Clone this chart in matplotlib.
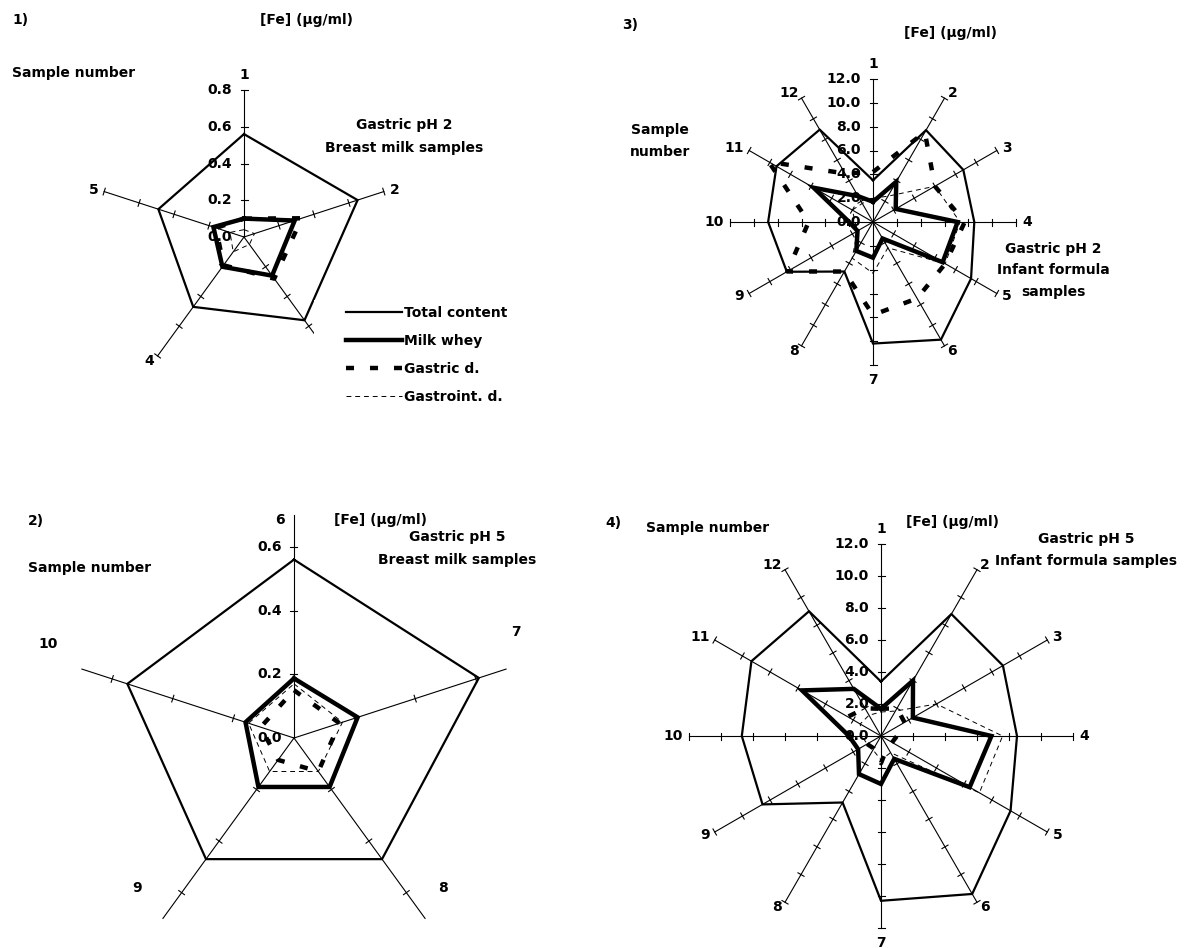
import numpy as np
import matplotlib
matplotlib.use("Agg")
import matplotlib.pyplot as plt
from matplotlib.patches import Rectangle

# ---------------- data ----------------
series_names = ["Total content", "Milk whey", "Gastric d.", "Gastroint. d."]

p1_samples = ["1", "2", "3", "4", "5"]
p1_total = [0.56, 0.65, 0.56, 0.47, 0.49]
p1_whey = [0.10, 0.29, 0.26, 0.20, 0.175]
p1_gastric = [0.10, 0.33, 0.28, 0.19, 0.16]
p1_gastroint = [0.04, 0.06, 0.05, 0.10, 0.08]
p1_ticks = [0.0, 0.2, 0.4, 0.6, 0.8]

p2_samples = ["6", "7", "8", "9", "10"]
p2_total = [0.56, 0.61, 0.47, 0.47, 0.55]
p2_whey = [0.187, 0.21, 0.19, 0.19, 0.16]
p2_gastric = [0.15, 0.15, 0.13, 0.085, 0.11]
p2_gastroint = [0.17, 0.16, 0.13, 0.13, 0.15]
p2_ticks = [0.0, 0.2, 0.4, 0.6]

p3_samples = ["1", "2", "3", "4", "5", "6", "7", "8", "9", "10", "11", "12"]
p3_total = [3.5, 8.9, 8.75, 8.5, 9.5, 11.4, 10.2, 4.8, 8.35, 8.8, 9.35, 8.95]
p3_whey = [1.7, 3.9, 2.2, 7.1, 6.75, 1.6, 3.0, 2.8, 1.5, 2.0, 5.75, 2.5]
p3_gastric = [4.2, 8.7, 6.0, 7.7, 7.0, 7.4, 7.8, 4.8, 8.3, 5.4, 10.1, 4.7]
p3_gastroint = [2.0, 2.5, 6.0, 7.3, 7.0, 2.5, 4.3, 3.5, 1.5, 1.5, 2.0, 1.8]
p3_ticks = [0.0, 2.0, 4.0, 6.0, 8.0, 10.0, 12.0]

p4_samples = ["1", "2", "3", "4", "5", "6", "7", "8", "9", "10", "11", "12"]
p4_total = [3.4, 8.8, 8.8, 8.5, 9.35, 11.4, 10.3, 4.8, 8.55, 8.7, 9.35, 9.0]
p4_whey = [1.7, 4.0, 2.3, 6.9, 6.4, 1.65, 3.0, 2.75, 1.65, 2.0, 5.7, 3.4]
p4_gastric = [1.7, 2.0, 1.7, 1.0, 0.8, 0.8, 1.7, 0.9, 1.0, 2.0, 2.4, 2.0]
p4_gastroint = [1.5, 1.8, 4.0, 7.6, 7.1, 1.2, 1.5, 1.0, 1.0, 1.2, 1.5, 1.5]
p34_ticks = p3_ticks

# ---------------- layout / style ----------------
W, H = 1185, 948
FONT = dict(family="DejaVu Sans", weight="bold", fontsize=10)

styles = [
    dict(color="black", lw=1.6, linestyle="-"),
    dict(color="black", lw=3.2, linestyle="-"),
    dict(color="black", lw=3.2, linestyle=(0, (1.8, 3.6))),
    dict(color="black", lw=0.7, linestyle=(0, (5, 4))),
]

fig = plt.figure(figsize=(W / 100, H / 100), dpi=100)
fig.patch.set_facecolor("white")


def ftext(x, y, s, ha="center", va="center"):
    fig.text(x / W, 1 - y / H, s, ha=ha, va=va, **FONT)


def radar(cx, cy, R, rmax, samples, series, ticks, tick_fmt, label_px=None):
    half = R * 1.35
    ax = fig.add_axes([(cx - half) / W, (H - cy - half) / H, 2 * half / W, 2 * half / H])
    lim = rmax * 1.35
    ax.set_xlim(-lim, lim)
    ax.set_ylim(-lim, lim)
    ax.set_aspect("equal")
    ax.axis("off")
    s = rmax / R  # data units per pixel
    n = len(samples)
    theta = np.arange(n) * 2 * np.pi / n
    dx, dy = np.sin(theta), np.cos(theta)
    # spokes
    for k in range(n):
        ax.plot([0, rmax * dx[k]], [0, rmax * dy[k]], color="black", lw=0.8, zorder=1)
        for t in ticks[1:]:
            px, py = t * dx[k], t * dy[k]
            hl = 3.5 * s
            ax.plot([px - hl * dy[k], px + hl * dy[k]], [py + hl * dx[k], py - hl * dx[k]],
                    color="black", lw=0.8, zorder=1)
    # tick labels on first spoke
    for t in ticks:
        ax.text(-12 * s, t, tick_fmt.format(t), ha="right", va="center", zorder=6, **FONT)
    # series
    lines = []
    for vals, st, z in zip(series, styles, [2, 3, 4, 5]):
        v = np.array(vals + vals[:1])
        th = np.append(theta, theta[0])
        ln, = ax.plot(v * np.sin(th), v * np.cos(th), zorder=z, solid_joinstyle="miter",
                      dash_capstyle="butt", **st)
        lines.append(ln)
    # category labels
    for k in range(n):
        if label_px is not None:
            lx, ly = label_px[k]
            ax.text((lx - cx) * s, -(ly - cy) * s, samples[k], ha="center", va="center", **FONT)
            continue
        r = rmax + 6 * s
        if abs(dx[k]) < 0.1:
            ha = "center"
            va = "bottom" if dy[k] > 0 else "top"
            r = rmax + 8 * s
        else:
            ha = "left" if dx[k] > 0 else "right"
            va = "center"
        ax.text(r * dx[k], r * dy[k], samples[k], ha=ha, va=va, **FONT)
    return ax, lines


# Panel 1
ax1, lines1 = radar(244, 237, 147, 0.8, p1_samples,
                    [p1_total, p1_whey, p1_gastric, p1_gastroint], p1_ticks, "{:.1f}")
# Panel 2
ax2, _ = radar(294, 738, 223, 0.7, p2_samples,
               [p2_total, p2_whey, p2_gastric, p2_gastroint], p2_ticks, "{:.1f}",
               label_px=[(280, 520), (516, 632), (443, 888), (137, 888), (48, 644)])
# Panel 3
ax3, _ = radar(873, 222, 143, 12.0, p3_samples,
               [p3_total, p3_whey, p3_gastric, p3_gastroint], p34_ticks, "{:.1f}")
# Panel 4
ax4, _ = radar(881, 736, 192, 12.0, p4_samples,
               [p4_total, p4_whey, p4_gastric, p4_gastroint], p34_ticks, "{:.1f}")

# ---------------- texts ----------------
ftext(12, 20, "1)", ha="left")
ftext(306, 20, "[Fe] (µg/ml)")
ftext(12, 73, "Sample number", ha="left")
ftext(404, 125, "Gastric pH 2")
ftext(404, 148, "Breast milk samples")

ftext(622, 25, "3)", ha="left")
ftext(950, 33, "[Fe] (µg/ml)")
ftext(660, 130, "Sample")
ftext(660, 152, "number")
ftext(1053, 249, "Gastric pH 2")
ftext(1053, 270, "Infant formula")
ftext(1053, 292, "samples")

ftext(28, 521, "2)", ha="left")
ftext(381, 520, "[Fe] (µg/ml)")
ftext(457, 537, "Gastric pH 5")
ftext(457, 560, "Breast milk samples")
ftext(28, 568, "Sample number", ha="left")

ftext(605, 523, "4)", ha="left")
ftext(646, 528, "Sample number", ha="left")
ftext(953, 522, "[Fe] (µg/ml)")
ftext(1086, 539, "Gastric pH 5")
ftext(1086, 561, "Infant formula samples")

# ---------------- legend (panel 1) ----------------
fig.patches.append(Rectangle((314 / W, 1 - 425 / H), 220 / W, 125 / H,
                             transform=fig.transFigure, facecolor="white",
                             edgecolor="none", zorder=3))
leg = fig.legend(lines1, series_names, loc="upper left",
                 bbox_to_anchor=(339 / W, 1 - 299 / H), frameon=False,
                 borderpad=0, handlelength=4.0, handletextpad=0.15,
                 labelspacing=1.0, prop=dict(family="DejaVu Sans", weight="bold", size=10))
leg.set_zorder(6)

fig.savefig("out.png", dpi=100, facecolor="white")
